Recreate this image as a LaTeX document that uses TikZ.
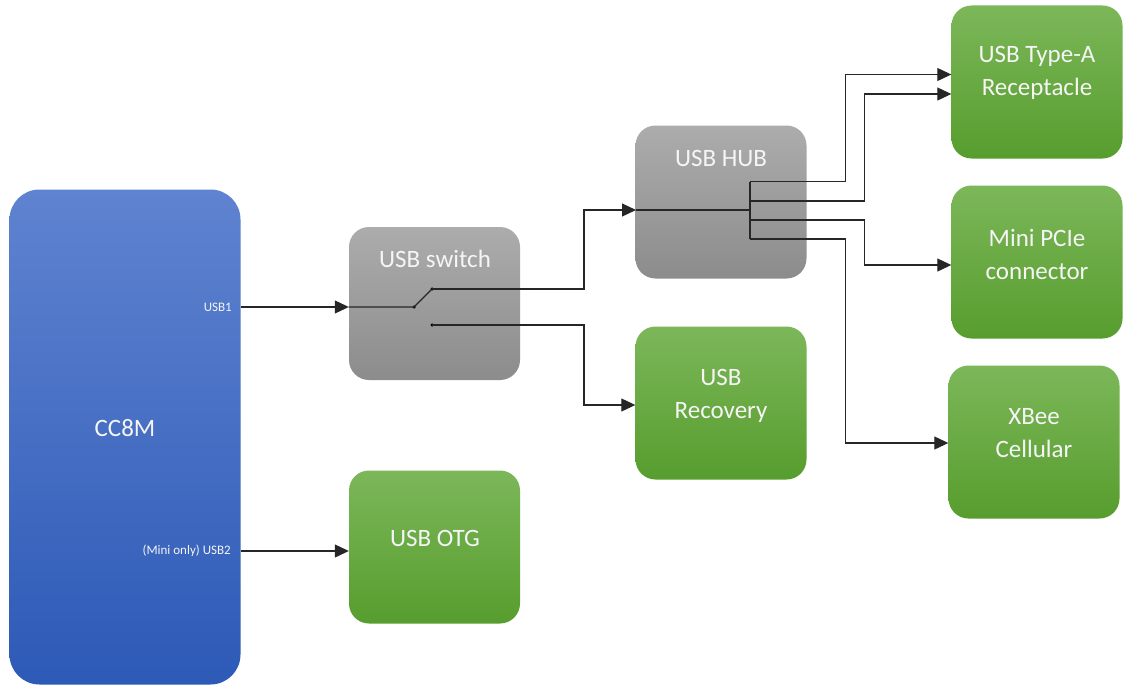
\documentclass[tikz,border=0pt]{standalone}
\usepackage{fontspec}
\setmainfont{Carlito}
\usetikzlibrary{arrows.meta,calc}
\definecolor{bluetop}{RGB}{95,131,208}
\definecolor{bluebot}{RGB}{45,90,183}
\definecolor{graytop}{RGB}{172,172,172}
\definecolor{graybot}{RGB}{140,140,140}
\definecolor{greentop}{RGB}{124,183,89}
\definecolor{greenbot}{RGB}{87,157,46}
\definecolor{txt}{RGB}{245,245,245}
\tikzset{
  box/.style={rectangle, rounded corners=20pt, minimum width=171pt, minimum height=153pt, inner sep=0pt, draw=none},
  graybox/.style={box, top color=graytop, bottom color=graybot},
  greenbox/.style={box, top color=greentop, bottom color=greenbot},
  bluebox/.style={box, rounded corners=30pt, minimum width=231pt, minimum height=495pt, top color=bluetop, bottom color=bluebot},
  title/.style={text=txt, font=\fontsize{25}{33}\selectfont, align=center, inner sep=0pt},
  small/.style={text=txt, font=\fontsize{13}{15}\selectfont, inner sep=0pt, anchor=east},
  wire/.style={line width=1.1pt, black!85},
  arr/.style={wire, -{Triangle[length=14pt,width=13pt]}},
  dot/.style={circle, fill=black, inner sep=0pt, minimum size=3.5pt}
}
\begin{document}
\begin{tikzpicture}[x=1pt,y=-1pt]
\useasboundingbox[fill=white] (0,0) rectangle (1124,685);

% boxes
\node[bluebox] (cc8m) at (125,437) {};
\node[graybox] (switch) at (434.5,303.5) {};
\node[graybox] (hub) at (721,202) {};
\node[greenbox] (recovery) at (721,403) {};
\node[greenbox] (otg) at (434.5,547) {};
\node[greenbox] (typea) at (1037,82) {};
\node[greenbox] (pcie) at (1037,262) {};
\node[greenbox] (xbee) at (1034,442) {};

% texts
\node[title] (cc8mt) at (125,428) {CC8M};
\node[small] (usb1t) at (232,307) {USB1};
\node[small] (usb2t) at (231,551) {(Mini only) USB2};
\node[title] (switcht) at (435,259) {USB switch};
\node[title] (hubt) at (721,158) {USB HUB};
\node[title] (recoveryt) at (721,396) {USB\\Recovery};
\node[title] (otgt) at (435,538) {USB OTG};
\node[title] (typeat) at (1037,73) {USB Type-A\\Receptacle};
\node[title] (pciet) at (1037,254) {Mini PCIe\\connector};
\node[title] (xbeet) at (1034,433.5) {XBee\\Cellular};

% switch internals
\coordinate (sin) at (414,307);
\coordinate (sa) at (432,289);
\coordinate (sb) at (432,325);
\node[dot] (dsin) at (sin) {};
\node[dot] (dsa) at (sa) {};
\node[dot] (dsb) at (sb) {};

% hub bus
\coordinate (hubin) at (636,210);
\coordinate (bus) at (750,210);
\coordinate (b1) at (750,181.5);
\coordinate (b2) at (750,201);
\coordinate (b3) at (750,220);
\coordinate (b4) at (750,239);

% connectors
\draw[arr] (cc8m.east |- sin) -- (switch.west |- sin);
\draw[wire] (switch.west |- sin) -- (dsin.center) -- (dsa.center);
\draw[arr] (dsa.center) -- (584,289) |- (hubin);
\draw[arr] (dsb.center) -- (584,325) |- (recovery.west |- 0,405);
\draw[arr] (cc8m.east |- 0,551) -- (otg.west |- 0,551);

\draw[wire] (hubin) -- (bus);
\draw[wire] (b1) -- (b4);
\draw[arr] (b1) -- (845.5,181.5) |- (typea.west |- 0,74.5);
\draw[arr] (b2) -- (864.5,201) |- (typea.west |- 0,94);
\draw[arr] (b3) -- (864.5,220) |- (pcie.west |- 0,265);
\draw[arr] (b4) -- (845.5,239) |- (xbee.west |- 0,443);
\end{tikzpicture}
\end{document}
